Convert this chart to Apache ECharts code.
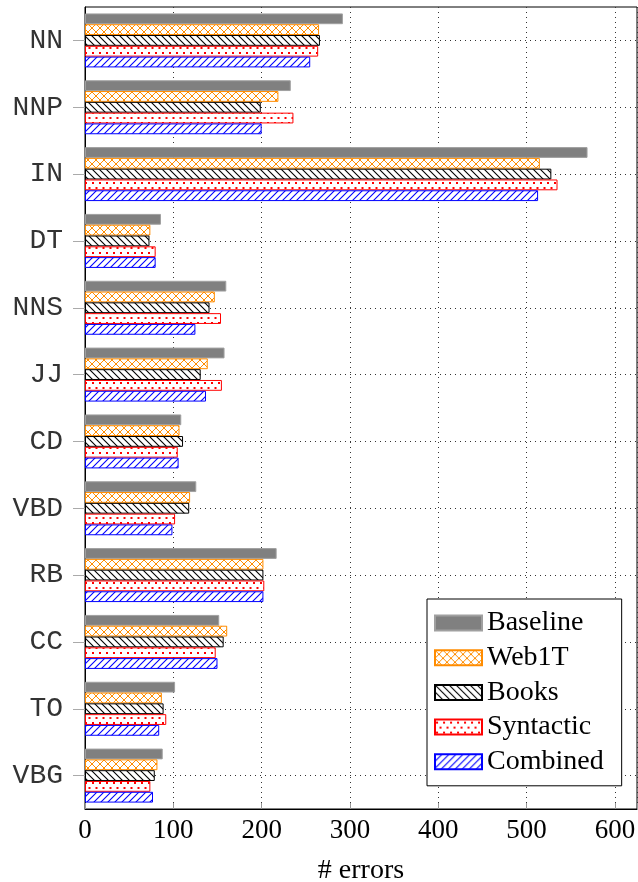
<!DOCTYPE html>
<html>
<head>
<meta charset="utf-8">
<title></title>
<script src="https://cdn.jsdelivr.net/npm/echarts@6/dist/echarts.min.js"></script>
<style>html, body { margin: 0; padding: 0; background: #fff; }</style>
</head>
<body>
<div id="main" style="width: 638px; height: 882px"></div>
<script>
var tags = ['NN', 'NNP', 'IN', 'DT', 'NNS', 'JJ', 'CD', 'VBD', 'RB', 'CC', 'TO', 'VBG'];
var baseline  = [292, 233, 569, 86, 160, 158, 109, 126, 217, 152, 102, 88];
var web1t     = [265, 219, 515, 74, 147, 139, 107, 119, 202, 161, 87, 82];
var books     = [266, 199, 528, 73, 141, 131, 111, 118, 202, 157, 89, 79];
var syntactic = [264, 236, 535, 80, 154, 155, 105, 102, 203, 148, 92, 74];
var combined  = [255, 200, 513, 80, 125, 137, 106, 99, 202, 150, 84, 77];
var xTicks = [0, 100, 200, 300, 400, 500, 600];

// small canvas tiles used as fill patterns
function makePattern(w, h, draw) {
    var c = document.createElement('canvas');
    c.width = w;
    c.height = h;
    var ctx = c.getContext('2d');
    ctx.fillStyle = '#fff';
    ctx.fillRect(0, 0, w, h);
    draw(ctx);
    return { image: c, repeat: 'repeat' };
}

var crossOrange = makePattern(8, 8, function (ctx) {
    ctx.strokeStyle = '#ff8c00';
    ctx.lineWidth = 1;
    ctx.beginPath();
    ctx.moveTo(0, 0); ctx.lineTo(8, 8);
    ctx.moveTo(8, 0); ctx.lineTo(0, 8);
    ctx.stroke();
});
var nwBlack = makePattern(7, 7, function (ctx) {
    ctx.strokeStyle = '#000';
    ctx.lineWidth = 1.1;
    ctx.beginPath();
    ctx.moveTo(-1, -1); ctx.lineTo(8, 8);
    ctx.moveTo(-1, 6); ctx.lineTo(1, 8);
    ctx.moveTo(6, -1); ctx.lineTo(8, 1);
    ctx.stroke();
});
var dotsRed = makePattern(7, 10, function (ctx) {
    ctx.fillStyle = '#ff0000';
    ctx.fillRect(1, 2, 2, 2);
    ctx.fillRect(4.5, 7, 2, 2);
});
var neBlue = makePattern(7, 7, function (ctx) {
    ctx.strokeStyle = '#0000ff';
    ctx.lineWidth = 1.1;
    ctx.beginPath();
    ctx.moveTo(-1, 8); ctx.lineTo(8, -1);
    ctx.moveTo(-1, 1); ctx.lineTo(1, -1);
    ctx.moveTo(6, 8); ctx.lineTo(8, 6);
    ctx.stroke();
});

function bar(name, data, fill, border) {
    return {
        name: name,
        type: 'bar',
        data: data,
        barWidth: 10.8,
        barGap: '0%',
        itemStyle: { color: fill, borderColor: border, borderWidth: 1 }
    };
}

window.onload = function () {
    var myChart = echarts.init(document.getElementById('main'));
    var dotted = { color: '#333', width: 1, type: [1, 4] };
    var option = {
        animation: false,
        grid: {
            left: 85, right: 1, top: 7, bottom: 73,
            outerBoundsMode: 'none',
            show: true, borderColor: '#000', borderWidth: 1
        },
        legend: {
            orient: 'vertical',
            left: 427, top: 599,
            data: ['Baseline', 'Web1T', 'Books', 'Syntactic', 'Combined'],
            icon: 'rect',
            itemWidth: 47, itemHeight: 15, itemGap: 6.7,
            padding: [10, 18, 10, 7],
            backgroundColor: '#fff',
            borderColor: '#000', borderWidth: 1,
            textStyle: { fontFamily: 'Liberation Serif', fontSize: 28, color: '#000' }
        },
        xAxis: {
            type: 'value',
            min: 0, max: 625, interval: 100,
            name: '# errors',
            nameLocation: 'middle',
            nameGap: 48,
            nameTextStyle: { fontFamily: 'Liberation Serif', fontSize: 28, color: '#000' },
            axisLine: { show: true, lineStyle: { color: '#000' } },
            axisTick: { show: true, inside: true, length: 6, lineStyle: { color: '#999' } },
            axisLabel: {
                margin: 8,
                fontFamily: 'Liberation Serif', fontSize: 27, color: '#000',
                formatter: function (v) { return xTicks.indexOf(v) >= 0 ? String(v) : ''; }
            },
            splitLine: { show: true, lineStyle: dotted }
        },
        yAxis: {
            type: 'category',
            data: tags,
            inverse: true,
            axisLine: { show: true, lineStyle: { color: '#000' } },
            axisTick: { show: true, alignWithLabel: true, length: 12, lineStyle: { color: '#aaa' } },
            axisLabel: { margin: 22, fontFamily: 'Liberation Mono', fontSize: 28, color: '#333' },
            splitLine: { show: true, alignWithLabel: true, lineStyle: dotted }
        },
        series: [
            bar('Baseline', baseline, '#808080', '#a0a0a0'),
            bar('Web1T', web1t, crossOrange, '#ff8c00'),
            bar('Books', books, nwBlack, '#000'),
            bar('Syntactic', syntactic, dotsRed, '#ff0000'),
            bar('Combined', combined, neBlue, '#0000ff')
        ]
    };
    myChart.setOption(option);
};
</script>
</body>
</html>
